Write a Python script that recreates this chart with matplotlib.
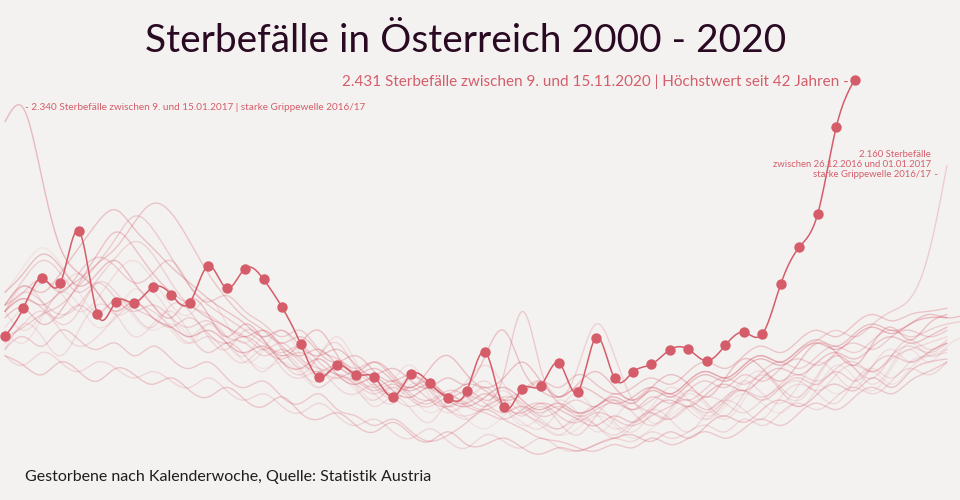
import numpy as np
import matplotlib
matplotlib.use("Agg")
import matplotlib.pyplot as plt

RED = "#d55d6a"
BG = "#f4f2f1"

# weekly deaths, Austria
years = list(range(2000, 2020))
deaths = {
    2000: [1760, 1840, 1900, 1850, 1760, 1700, 1730, 1680, 1640, 1660, 1620, 1570, 1600,
           1560, 1520, 1540, 1500, 1460, 1490, 1450, 1420, 1460, 1430, 1380, 1400, 1360,
           1330, 1370, 1400, 1350, 1310, 1330, 1370, 1340, 1300, 1330, 1370, 1400, 1360,
           1400, 1440, 1410, 1380, 1430, 1470, 1440, 1480, 1510, 1470, 1520, 1560, 1580],
    2001: [1650, 1720, 1790, 1760, 1700, 1740, 1820, 1860, 1800, 1720, 1690, 1740, 1660,
           1600, 1640, 1580, 1520, 1560, 1620, 1540, 1470, 1440, 1500, 1430, 1380, 1420,
           1460, 1400, 1350, 1330, 1390, 1440, 1380, 1330, 1350, 1400, 1460, 1420, 1370,
           1410, 1480, 1510, 1450, 1420, 1490, 1560, 1520, 1470, 1530, 1600, 1560, 1580],
    2002: [1600, 1660, 1700, 1640, 1590, 1620, 1680, 1720, 1700, 1650, 1600, 1620, 1570,
           1540, 1580, 1520, 1490, 1510, 1460, 1440, 1470, 1430, 1400, 1420, 1390, 1370,
           1400, 1420, 1380, 1350, 1330, 1360, 1340, 1310, 1350, 1380, 1360, 1400, 1430,
           1410, 1380, 1420, 1460, 1480, 1450, 1500, 1530, 1510, 1550, 1580, 1600, 1620],
    2003: [1700, 1760, 1730, 1690, 1720, 1800, 1870, 1920, 1880, 1790, 1720, 1690, 1650,
           1620, 1580, 1600, 1550, 1520, 1500, 1470, 1440, 1460, 1420, 1400, 1430, 1410,
           1390, 1420, 1450, 1480, 1430, 1520, 1660, 1560, 1420, 1380, 1360, 1400, 1380,
           1420, 1450, 1430, 1470, 1500, 1480, 1520, 1540, 1510, 1560, 1590, 1570, 1600],
    2004: [1640, 1600, 1680, 1760, 1720, 1650, 1690, 1770, 1720, 1640, 1600, 1660, 1620,
           1540, 1580, 1640, 1560, 1490, 1520, 1470, 1420, 1480, 1530, 1450, 1390, 1410,
           1460, 1400, 1340, 1370, 1420, 1380, 1320, 1360, 1410, 1350, 1380, 1440, 1400,
           1360, 1420, 1490, 1450, 1400, 1460, 1530, 1490, 1450, 1520, 1580, 1540, 1590, 1620],
    2005: [1620, 1650, 1690, 1720, 1780, 1850, 1930, 2000, 1960, 1870, 1780, 1720, 1680,
           1640, 1600, 1570, 1590, 1540, 1500, 1480, 1450, 1470, 1430, 1410, 1440, 1400,
           1380, 1360, 1390, 1410, 1370, 1350, 1380, 1360, 1340, 1370, 1400, 1420, 1390,
           1430, 1450, 1420, 1460, 1490, 1470, 1510, 1480, 1530, 1560, 1540, 1570, 1600],
    2006: [1580, 1660, 1620, 1560, 1640, 1720, 1690, 1620, 1660, 1700, 1630, 1570, 1600,
           1560, 1510, 1560, 1520, 1460, 1500, 1460, 1400, 1430, 1390, 1350, 1420, 1480,
           1530, 1470, 1400, 1360, 1330, 1370, 1340, 1300, 1340, 1390, 1360, 1320, 1380,
           1420, 1390, 1360, 1430, 1470, 1440, 1410, 1480, 1520, 1490, 1540, 1560, 1570],
    2007: [1560, 1530, 1500, 1540, 1510, 1480, 1520, 1500, 1470, 1490, 1450, 1430, 1460,
           1420, 1400, 1430, 1380, 1360, 1380, 1340, 1320, 1350, 1310, 1290, 1320, 1280,
           1280, 1300, 1270, 1250, 1270, 1260, 1280, 1300, 1310, 1290, 1320, 1300, 1340,
           1370, 1350, 1390, 1420, 1400, 1440, 1470, 1450, 1490, 1460, 1510, 1540, 1550],
    2008: [1700, 1780, 1730, 1660, 1700, 1790, 1760, 1690, 1650, 1720, 1700, 1620, 1580,
           1640, 1610, 1540, 1500, 1560, 1600, 1520, 1460, 1430, 1490, 1460, 1400, 1440,
           1480, 1420, 1370, 1400, 1350, 1310, 1370, 1420, 1380, 1340, 1390, 1450, 1410,
           1370, 1440, 1500, 1460, 1430, 1500, 1560, 1520, 1490, 1560, 1610, 1580, 1610],
    2009: [1720, 1800, 1860, 1820, 1760, 1790, 1740, 1700, 1720, 1680, 1650, 1670, 1620,
           1600, 1560, 1580, 1540, 1510, 1530, 1490, 1460, 1480, 1440, 1420, 1450, 1430,
           1400, 1430, 1410, 1380, 1400, 1370, 1390, 1410, 1390, 1420, 1440, 1420, 1460,
           1490, 1470, 1510, 1540, 1520, 1560, 1590, 1570, 1610, 1640, 1620, 1640, 1660, 1670],
    2010: [1580, 1620, 1590, 1640, 1610, 1580, 1600, 1560, 1590, 1550, 1520, 1540, 1490,
           1460, 1480, 1430, 1410, 1440, 1390, 1370, 1340, 1360, 1320, 1290, 1310, 1350,
           1390, 1360, 1330, 1300, 1290, 1270, 1260, 1280, 1270, 1300, 1280, 1300, 1320,
           1300, 1330, 1360, 1340, 1380, 1410, 1390, 1430, 1460, 1440, 1480, 1510, 1540],
    2011: [1700, 1640, 1690, 1770, 1820, 1760, 1690, 1720, 1760, 1680, 1620, 1660, 1600,
           1560, 1620, 1580, 1510, 1480, 1540, 1500, 1440, 1410, 1470, 1450, 1390, 1360,
           1400, 1450, 1390, 1340, 1310, 1360, 1400, 1350, 1320, 1380, 1430, 1390, 1360,
           1420, 1480, 1440, 1410, 1470, 1540, 1500, 1460, 1530, 1580, 1540, 1570, 1600],
    2012: [1680, 1710, 1660, 1700, 1790, 1880, 1950, 1900, 1820, 1760, 1720, 1680, 1650,
           1620, 1640, 1590, 1560, 1580, 1530, 1500, 1520, 1480, 1450, 1470, 1430, 1410,
           1440, 1400, 1380, 1410, 1390, 1360, 1340, 1370, 1350, 1390, 1420, 1400, 1440,
           1470, 1450, 1490, 1520, 1500, 1540, 1570, 1550, 1590, 1620, 1600, 1620, 1650],
    2013: [1720, 1760, 1800, 1760, 1820, 1870, 1840, 1790, 1820, 1860, 1780, 1730, 1750,
           1700, 1660, 1620, 1640, 1580, 1550, 1520, 1540, 1490, 1460, 1480, 1430, 1450,
           1420, 1500, 1700, 1520, 1410, 1380, 1400, 1420, 1390, 1430, 1410, 1450, 1480,
           1460, 1500, 1480, 1520, 1550, 1530, 1570, 1600, 1580, 1620, 1640, 1620, 1640],
    2014: [1560, 1530, 1570, 1540, 1510, 1540, 1520, 1490, 1510, 1480, 1460, 1490, 1450,
           1420, 1440, 1400, 1380, 1410, 1370, 1340, 1360, 1320, 1300, 1330, 1290, 1270,
           1310, 1290, 1270, 1300, 1270, 1260, 1280, 1300, 1290, 1320, 1300, 1320, 1340,
           1320, 1360, 1340, 1380, 1410, 1390, 1430, 1460, 1440, 1480, 1520, 1500, 1540],
    2015: [1720, 1780, 1760, 1820, 1900, 1980, 2020, 1960, 1900, 1840, 1790, 1740, 1700,
           1660, 1620, 1640, 1590, 1560, 1580, 1530, 1500, 1520, 1480, 1460, 1490, 1470,
           1560, 1640, 1520, 1450, 1430, 1460, 1440, 1410, 1430, 1460, 1440, 1480, 1510,
           1490, 1530, 1560, 1540, 1580, 1610, 1590, 1630, 1660, 1640, 1660, 1690, 1680, 1690],
    2016: [1700, 1740, 1710, 1680, 1720, 1690, 1740, 1710, 1680, 1650, 1680, 1630, 1600,
           1620, 1580, 1550, 1570, 1520, 1490, 1510, 1470, 1440, 1460, 1420, 1400, 1430,
           1410, 1380, 1400, 1370, 1390, 1420, 1400, 1440, 1420, 1460, 1440, 1480, 1510,
           1490, 1530, 1560, 1540, 1580, 1610, 1640, 1620, 1660, 1700, 1740, 1880, 2160],
    2017: [2298, 2340, 2120, 1900, 1820, 1760, 1700, 1730, 1680, 1650, 1620, 1640, 1600,
           1570, 1590, 1540, 1520, 1550, 1500, 1470, 1490, 1450, 1430, 1460, 1420, 1400,
           1430, 1460, 1420, 1390, 1410, 1380, 1400, 1430, 1410, 1450, 1430, 1470, 1500,
           1480, 1520, 1550, 1530, 1570, 1600, 1580, 1620, 1650, 1630, 1660, 1680, 1680],
    2018: [1700, 1740, 1720, 1760, 1800, 1850, 1900, 1980, 2040, 2010, 1920, 1820, 1740,
           1680, 1640, 1600, 1620, 1570, 1540, 1560, 1510, 1480, 1500, 1460, 1440, 1470,
           1450, 1420, 1440, 1480, 1460, 1500, 1470, 1440, 1460, 1490, 1470, 1510, 1540,
           1520, 1560, 1590, 1570, 1610, 1640, 1620, 1660, 1690, 1670, 1690, 1700, 1710],
    2019: [1760, 1820, 1880, 1840, 1780, 1820, 1860, 1790, 1720, 1680, 1740, 1690, 1620,
           1660, 1610, 1560, 1600, 1640, 1560, 1510, 1540, 1500, 1460, 1520, 1560, 1500,
           1460, 1490, 1540, 1480, 1430, 1470, 1510, 1460, 1420, 1460, 1500, 1470, 1430,
           1490, 1550, 1520, 1480, 1540, 1600, 1570, 1530, 1600, 1650, 1610, 1660, 1690],
}
line_alpha = [0.10, 0.14, 0.18, 0.22, 0.12, 0.26, 0.16, 0.30, 0.20, 0.24,
              0.28, 0.15, 0.32, 0.27, 0.19, 0.33, 0.25, 0.38, 0.30, 0.34]

deaths_2020 = [1621, 1711, 1805, 1789, 1954, 1692, 1730, 1727, 1776, 1753, 1727, 1843,
               1773, 1835, 1801, 1713, 1598, 1492, 1531, 1500, 1492, 1430, 1502, 1473,
               1426, 1449, 1572, 1398, 1456, 1465, 1537, 1445, 1617, 1489, 1509, 1533,
               1579, 1580, 1544, 1593, 1634, 1628, 1786, 1902, 2007, 2280, 2431]


def natural_spline(y, steps=12):
    y = np.asarray(y, dtype=float)
    n = len(y)
    x = np.arange(1, n + 1, dtype=float)
    A = np.zeros((n, n))
    r = np.zeros(n)
    A[0, 0] = 1
    A[-1, -1] = 1
    for i in range(1, n - 1):
        A[i, i - 1] = 1
        A[i, i] = 4
        A[i, i + 1] = 1
        r[i] = 3 * (y[i + 1] - 2 * y[i] + y[i - 1])
    c = np.linalg.solve(A, r)
    b = (y[1:] - y[:-1]) - (2 * c[:-1] + c[1:]) / 3
    d = (c[1:] - c[:-1]) / 3
    xs, ys = [], []
    t = np.linspace(0, 1, steps, endpoint=False)
    for i in range(n - 1):
        xs.append(x[i] + t)
        ys.append(y[i] + b[i] * t + c[i] * t ** 2 + d[i] * t ** 3)
    xs.append([x[-1]])
    ys.append([y[-1]])
    return np.concatenate(xs), np.concatenate(ys)


fig = plt.figure(figsize=(9.6, 5.0), dpi=100, facecolor=BG)
ax = fig.add_axes([0, 0, 1, 1])
ax.set_facecolor(BG)
ax.set_xlim(0.729, 52.706)
ax.set_ylim(1105, 2682)
ax.axis("off")

for yr, a in zip(years, line_alpha):
    sx, sy = natural_spline(deaths[yr])
    ax.plot(sx, sy, color=RED, lw=1.0, alpha=a, solid_capstyle="round")

sx, sy = natural_spline(deaths_2020)
ax.plot(sx, sy, color=RED, lw=1.1)
ax.plot(np.arange(1, len(deaths_2020) + 1), deaths_2020, "o", color=RED, ms=7.5, mec="none")

font = "Lato"
W, H = 960.0, 500.0


def txt(x, y, s, **kw):
    fig.text(x / W, 1 - y / H, s, family=font, **kw)


txt(466, 52, "Sterbefälle in Österreich 2000 - 2020", ha="center", va="baseline",
    fontsize=28, color="#2a0a22")
txt(849, 86, "2.431 Sterbefälle zwischen 9. und 15.11.2020 | Höchstwert seit 42 Jahren -",
    ha="right", va="baseline", fontsize=11, color=RED)
txt(25, 110, "- 2.340 Sterbefälle zwischen 9. und 15.01.2017 | starke Grippewelle 2016/17",
    ha="left", va="baseline", fontsize=7.2, color=RED)
txt(931, 157, "2.160 Sterbefälle", ha="right", va="baseline", fontsize=6.8, color=RED)
txt(931, 167, "zwischen 26.12.2016 und 01.01.2017", ha="right", va="baseline", fontsize=6.8, color=RED)
txt(931, 177, "starke Grippewelle 2016/17", ha="right", va="baseline", fontsize=6.8, color=RED)
txt(932, 177, " -", ha="left", va="baseline", fontsize=6.8, color=RED)
txt(25, 481, "Gestorbene nach Kalenderwoche, Quelle: Statistik Austria", ha="left",
    va="baseline", fontsize=11.5, color="#1e1e1e")

fig.savefig("out.png", dpi=100, facecolor=BG)
